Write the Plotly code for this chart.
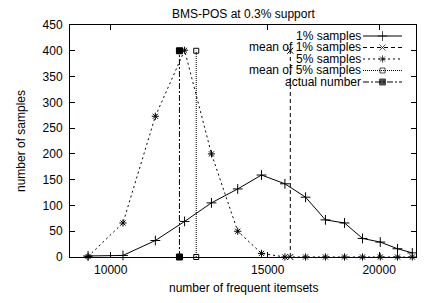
import plotly.graph_objects as go

# ---- data ----
bins = [9430, 10320, 11220, 12100, 12970, 13880, 14760, 15680, 16540, 17410, 18290, 19160, 20060, 20970, 21790]
samples_1pct = [2, 3, 32, 69, 105, 132, 159, 142, 116, 72, 66, 36, 29, 16, 8]
samples_5pct = [1, 66, 273, 401, 200, 50, 7, 0, 0, 0, 0, 0, 0, 0, 0]
mean_1pct = 15900
mean_5pct = 12470
actual_number = 11940
marker_span = [0, 400]

x_ticks = [10000, 15000, 20000]
y_ticks = list(range(0, 451, 50))

FONT = "Liberation Sans, Arial, sans-serif"
FS = 12
BLACK = "#000000"

series_styles = [
    ("1% samples", "solid", "cross-thin-open", 7),
    ("mean of 1% samples", "4px,3px", "x-thin-open", 6),
    ("5% samples", "2px,3px", "asterisk-open", 6),
    ("mean of 5% samples", "1px,1px", "square-open", 5),
    ("actual number", "6px,2px,2px,2px", "square", 6),
]

fig = go.Figure()

def add(x, y, idx):
    name, dash, sym, size = series_styles[idx]
    fig.add_trace(go.Scatter(
        x=x, y=y, mode="lines+markers", name=name, showlegend=False,
        line=dict(color=BLACK, width=1, dash=dash),
        marker=dict(symbol=sym, size=size, color=BLACK, line=dict(color=BLACK, width=1)),
        cliponaxis=False,
    ))

add(bins, samples_1pct, 0)
add([mean_1pct, mean_1pct], marker_span, 1)
add(bins, samples_5pct, 2)
add([mean_5pct, mean_5pct], marker_span, 3)
add([actual_number, actual_number], marker_span, 4)

# page geometry (browser body has an 8px margin)
OFF = 8
PW, PH = 425, 303
PL, PR, PT, PB = 70, 416, 25, 257       # plot area in page pixels
W, H = PW - OFF, PH - OFF
L, T = PL - OFF, PT - OFF
R, B = PW - PR, PH - PB

def paper_x(px):
    return (px - PL) / (PR - PL)

def paper_y(py):
    return (PB - py) / (PB - PT)

# ---- gnuplot-style legend (text right-aligned, sample on the right) ----
leg_text_x = 362.5
leg_x0, leg_x1 = 363, 402
leg_y0, leg_dy = 36, 11.5
for i, (name, dash, sym, size) in enumerate(series_styles):
    yy = leg_y0 + i * leg_dy
    fig.add_trace(go.Scatter(
        x=[leg_x0, (leg_x0 + leg_x1) / 2, leg_x1], y=[yy, yy, yy],
        xaxis="x2", yaxis="y2", mode="lines+markers", showlegend=False,
        line=dict(color=BLACK, width=1, dash=dash),
        marker=dict(symbol=sym, size=[0, size, 0], color=BLACK, line=dict(color=BLACK, width=1)),
        cliponaxis=False, hoverinfo="skip",
    ))
    fig.add_annotation(x=paper_x(leg_text_x), y=paper_y(yy), xref="paper", yref="paper",
                       text=name, showarrow=False, xanchor="right", yanchor="middle",
                       font=dict(family=FONT, size=FS, color=BLACK))

# chart title and axis titles
fig.add_annotation(x=paper_x(243), y=paper_y(14.5), xref="paper", yref="paper",
                   text="BMS-POS at 0.3% support", showarrow=False,
                   xanchor="center", yanchor="middle", font=dict(family=FONT, size=FS, color=BLACK))
fig.add_annotation(x=paper_x(243), y=paper_y(288), xref="paper", yref="paper",
                   text="number of frequent itemsets", showarrow=False,
                   xanchor="center", yanchor="middle", font=dict(family=FONT, size=FS, color=BLACK))
fig.add_annotation(x=paper_x(21), y=paper_y(141), xref="paper", yref="paper",
                   text="number of samples", showarrow=False, textangle=-90,
                   xanchor="center", yanchor="middle", font=dict(family=FONT, size=FS, color=BLACK))

fig.update_layout(
    width=W, height=H,
    margin=dict(l=L, r=R, t=T, b=B, autoexpand=False),
    paper_bgcolor="white", plot_bgcolor="white",
    font=dict(family=FONT, size=FS, color=BLACK),
    xaxis=dict(type="log", range=[3.95424, 4.3424], tickvals=x_ticks,
               ticktext=[str(v) for v in x_ticks], automargin=False,
               ticks="inside", ticklen=5, tickcolor=BLACK, showline=True, linecolor=BLACK,
               linewidth=1, mirror="ticks", showgrid=False, zeroline=False,
               ticklabelstandoff=2),
    yaxis=dict(range=[0, 450], tickvals=y_ticks, ticks="inside", ticklen=5, tickcolor=BLACK,
               showline=True, linecolor=BLACK, linewidth=1, mirror="ticks", automargin=False,
               showgrid=False, zeroline=False, ticklabelstandoff=4),
    xaxis2=dict(overlaying="x", range=[PL, PR], visible=False, fixedrange=True),
    yaxis2=dict(overlaying="y", range=[PB, PT], visible=False, fixedrange=True),
)

fig.write_html("out.html")
